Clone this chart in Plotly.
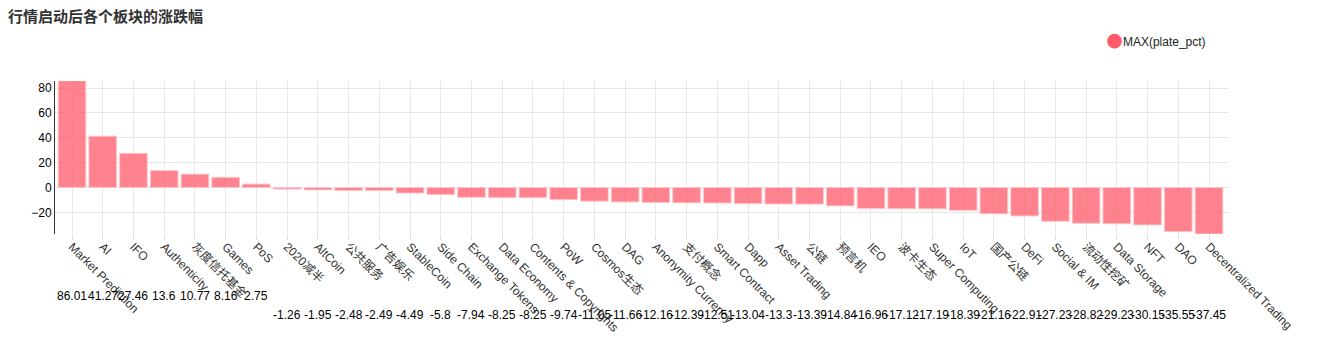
import plotly.graph_objects as go

categories = ["Market Prediction", "AI", "IFO", "Authenticity", "灰度信托基金", "Games", "PoS",
              "2020减半", "AltCoin", "公共服务", "广告娱乐", "StableCoin", "Side Chain",
              "Exchange Tokens", "Data Economy", "Contents & Copyrights", "PoW", "Cosmos生态",
              "DAG", "Anonymity Currency", "支付概念", "Smart Contract", "Dapp", "Asset Trading",
              "公链", "预言机", "IEO", "波卡生态", "Super Computing", "IoT", "国产公链", "DeFi",
              "Social & IM", "流动性挖矿", "Data Storage", "NFT", "DAO", "Decentralized Trading"]
values = [86.01, 41.27, 27.46, 13.6, 10.77, 8.16, 2.75, -1.26, -1.95, -2.48, -2.49, -4.49,
          -5.8, -7.94, -8.25, -8.25, -9.74, -11.05, -11.66, -12.16, -12.39, -12.51, -13.04,
          -13.3, -13.39, -14.84, -16.96, -17.12, -17.19, -18.39, -21.16, -22.91, -27.23,
          -28.82, -29.23, -30.15, -35.55, -37.45]
series_name = "MAX(plate_pct)"
title_text = "行情启动后各个板块的涨跌幅"

FONT = "Liberation Sans, Arial, Noto Sans CJK SC, sans-serif"
RED = "#ff5a6a"

# page has an 8px body margin, so the figure is 16px smaller and offset by 8px
W, H = 1304, 340
ML, MT = 46.7, 73
MB = H - 226.5
MR = W - 1219.7
PH = H - MT - MB

fig = go.Figure()
fig.add_trace(go.Bar(
    x=categories, y=values, name=series_name, showlegend=False,
    marker=dict(color="rgba(255,90,106,0.75)", line=dict(color="rgba(255,200,205,0.9)", width=1)),
    hoverinfo="x+y",
))
fig.add_trace(go.Scatter(
    x=[None], y=[None], mode="markers",
    name=f'<span style="color:{RED};font-size:19px;font-family:DejaVu Sans">●</span>{series_name}',
    marker=dict(color="rgba(0,0,0,0)", size=1, symbol="circle"),
))

for c, v in zip(categories, values):
    fig.add_annotation(
        x=c, xref="x", y=-0.407 if v >= 0 else -0.531, yref="paper",
        text=f"{v:g}", showarrow=False, xanchor="center", yanchor="middle",
        font=dict(family=FONT, size=12, color="#000000"),
    )

fig.update_layout(
    width=W, height=H,
    margin=dict(l=ML, r=MR, t=MT, b=MB, pad=0),
    paper_bgcolor="white", plot_bgcolor="white",
    font=dict(family=FONT, size=12, color="#333333"),
    title=dict(text=title_text, x=0.0, xanchor="left", xref="container",
               y=1 - 8.5 / H, yanchor="middle", yref="container",
               font=dict(family=FONT, size=15, color="#333333", weight="bold")),
    bargap=0.1,
    legend=dict(x=(1098 - 40 - ML) / (W - ML - MR), xanchor="left",
                y=1.0 + (MT - 33) / PH, yanchor="middle",
                orientation="h", font=dict(family=FONT, size=12, color="#222222"),
                itemwidth=30, bgcolor="rgba(0,0,0,0)"),
    showlegend=True,
)
fig.update_xaxes(
    tickangle=45, showgrid=True, gridcolor="#e8e8e8", gridwidth=1,
    ticks="outside", ticklen=5, tickcolor="#dddddd",
    ticklabelstandoff=-5,
    showline=False, zeroline=False,
    tickfont=dict(family=FONT, size=12, color="#333333"),
    automargin=False,
)
fig.update_yaxes(
    range=[min(values), max(values) - 0.3], dtick=20, tick0=0,
    showgrid=True, gridcolor="#e6e6e6", gridwidth=1,
    showline=True, linecolor="#333333", linewidth=1,
    zeroline=False, ticks="",
    tickfont=dict(family=FONT, size=12, color="#000000"),
    automargin=False,
)

fig.write_html("out.html")
